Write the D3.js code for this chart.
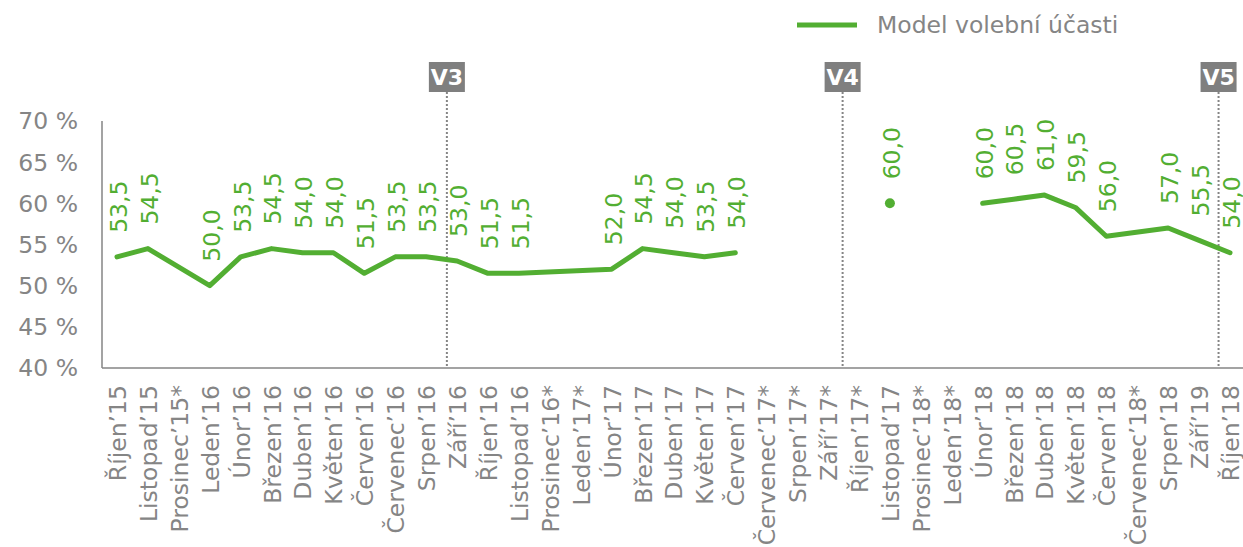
<!DOCTYPE html>
<html>
<head>
<meta charset="utf-8">
<script src="https://cdn.jsdelivr.net/npm/d3@7"></script>
<style>
  body { margin: 0; background: #fff; }
  text { font-family: "DejaVu Sans", Verdana, sans-serif; }
</style>
</head>
<body>
<div id="main"></div>
<script>
const ctx = {
  w: 1243,
  h: 547,
  left: 102,
  right: 1243,
  top: 121,
  bottom: 368,
  green: "#52ae32",
  grey: "#858585"
};

// months (asterisk = no survey that month)
const months = [
  "Říjen’15", "Listopad’15", "Prosinec’15*", "Leden’16", "Únor’16", "Březen’16",
  "Duben’16", "Květen’16", "Červen’16", "Červenec’16", "Srpen’16", "Září’16",
  "Říjen’16", "Listopad’16", "Prosinec’16*", "Leden’17*", "Únor’17", "Březen’17",
  "Duben’17", "Květen’17", "Červen’17", "Červenec’17*", "Srpen’17*", "Září’17*",
  "Říjen’17*", "Listopad’17", "Prosinec’18*", "Leden’18*", "Únor’18", "Březen’18",
  "Duben’18", "Květen’18", "Červen’18", "Červenec’18*", "Srpen’18", "Září’19",
  "Říjen’18"
];

const turnout = [
  53.5, 54.5, null, 50.0, 53.5, 54.5,
  54.0, 54.0, 51.5, 53.5, 53.5, 53.0,
  51.5, 51.5, null, null, 52.0, 54.5,
  54.0, 53.5, 54.0, null, null, null,
  null, 60.0, null, null, 60.0, 60.5,
  61.0, 59.5, 56.0, null, 57.0, 55.5,
  54.0
];

// index ranges that are joined by one line
const segments = [[0, 20], [25, 25], [28, 36]];

// election markers, position in month index
const elections = [
  { label: "V3", pos: 10.67 },
  { label: "V4", pos: 23.47 },
  { label: "V5", pos: 35.63 }
];

const yTicks = [40, 45, 50, 55, 60, 65, 70];

function createChart(svg) {
  const x = d3.scalePoint().domain(months).range([117, 1230]);
  const xi = d3.scaleLinear().domain([0, months.length - 1]).range([117, 1230]);
  const y = d3.scaleLinear().domain([40, 70]).range([ctx.bottom, ctx.top]);
  const fmt = v => v.toFixed(1).replace(".", ",");

  // axes
  svg.append("line")
    .attr("x1", ctx.left).attr("x2", ctx.left)
    .attr("y1", ctx.top).attr("y2", ctx.bottom)
    .style("stroke", ctx.grey).style("stroke-width", 1.5);
  svg.append("line")
    .attr("x1", ctx.left).attr("x2", ctx.right)
    .attr("y1", ctx.bottom).attr("y2", ctx.bottom)
    .style("stroke", ctx.grey).style("stroke-width", 1.5);

  svg.selectAll(".ytick")
    .data(yTicks)
    .enter()
    .append("text")
    .attr("class", "ytick")
    .attr("x", 78)
    .attr("y", d => y(d))
    .attr("dy", "0.36em")
    .attr("text-anchor", "end")
    .style("font-size", "23.5px")
    .style("fill", ctx.grey)
    .text(d => d + "\u00a0%");

  svg.selectAll(".xtick")
    .data(months)
    .enter()
    .append("text")
    .attr("class", "xtick")
    .attr("transform", d => `translate(${x(d)},385) rotate(-90)`)
    .attr("dy", "0.38em")
    .attr("text-anchor", "end")
    .style("font-size", "23.5px")
    .style("fill", ctx.grey)
    .text(d => d);

  // election markers
  const el = svg.selectAll(".election")
    .data(elections)
    .enter()
    .append("g")
    .attr("class", "election")
    .attr("transform", d => `translate(${xi(d.pos)},0)`);
  el.append("line")
    .attr("y1", 92).attr("y2", ctx.bottom)
    .style("stroke", ctx.grey)
    .style("stroke-width", 2)
    .style("stroke-dasharray", "2,2");
  el.append("rect")
    .attr("x", -18).attr("y", 62)
    .attr("width", 36).attr("height", 30)
    .style("fill", "#7f7f7f");
  el.append("text")
    .attr("y", 77)
    .attr("dy", "0.36em")
    .attr("text-anchor", "middle")
    .style("font-size", "22px")
    .style("font-weight", "bold")
    .style("fill", "#fff")
    .text(d => d.label);

  // series
  const line = d3.line()
    .x(d => x(d.m))
    .y(d => y(d.v));
  const points = months.map((m, i) => ({ m, v: turnout[i], i }));

  segments.forEach(([a, b]) => {
    const seg = points.filter(p => p.i >= a && p.i <= b && p.v != null);
    if (seg.length > 1) {
      svg.append("path")
        .datum(seg)
        .attr("d", line)
        .style("fill", "none")
        .style("stroke", ctx.green)
        .style("stroke-width", 5)
        .style("stroke-linejoin", "round")
        .style("stroke-linecap", "round");
    } else {
      svg.append("circle")
        .attr("cx", x(seg[0].m)).attr("cy", y(seg[0].v))
        .attr("r", 5)
        .style("fill", ctx.green);
    }
  });

  svg.selectAll(".vlabel")
    .data(points.filter(p => p.v != null))
    .enter()
    .append("text")
    .attr("class", "vlabel")
    .attr("transform", d => `translate(${x(d.m)},${y(d.v) - 24}) rotate(-90)`)
    .attr("dy", "0.42em")
    .style("font-size", "23.5px")
    .style("fill", ctx.green)
    .text(d => fmt(d.v));

  // legend
  svg.append("line")
    .attr("x1", 797).attr("x2", 857)
    .attr("y1", 25).attr("y2", 25)
    .style("stroke", ctx.green)
    .style("stroke-width", 5);
  svg.append("text")
    .attr("x", 877).attr("y", 25)
    .attr("dy", "0.36em")
    .style("font-size", "23.5px")
    .style("fill", ctx.grey)
    .text("Model volební účasti");
}

let svgEl = d3.select("#main").append("svg")
  .attr("width", ctx.w)
  .attr("height", ctx.h);
createChart(svgEl);
</script>
</body>
</html>
